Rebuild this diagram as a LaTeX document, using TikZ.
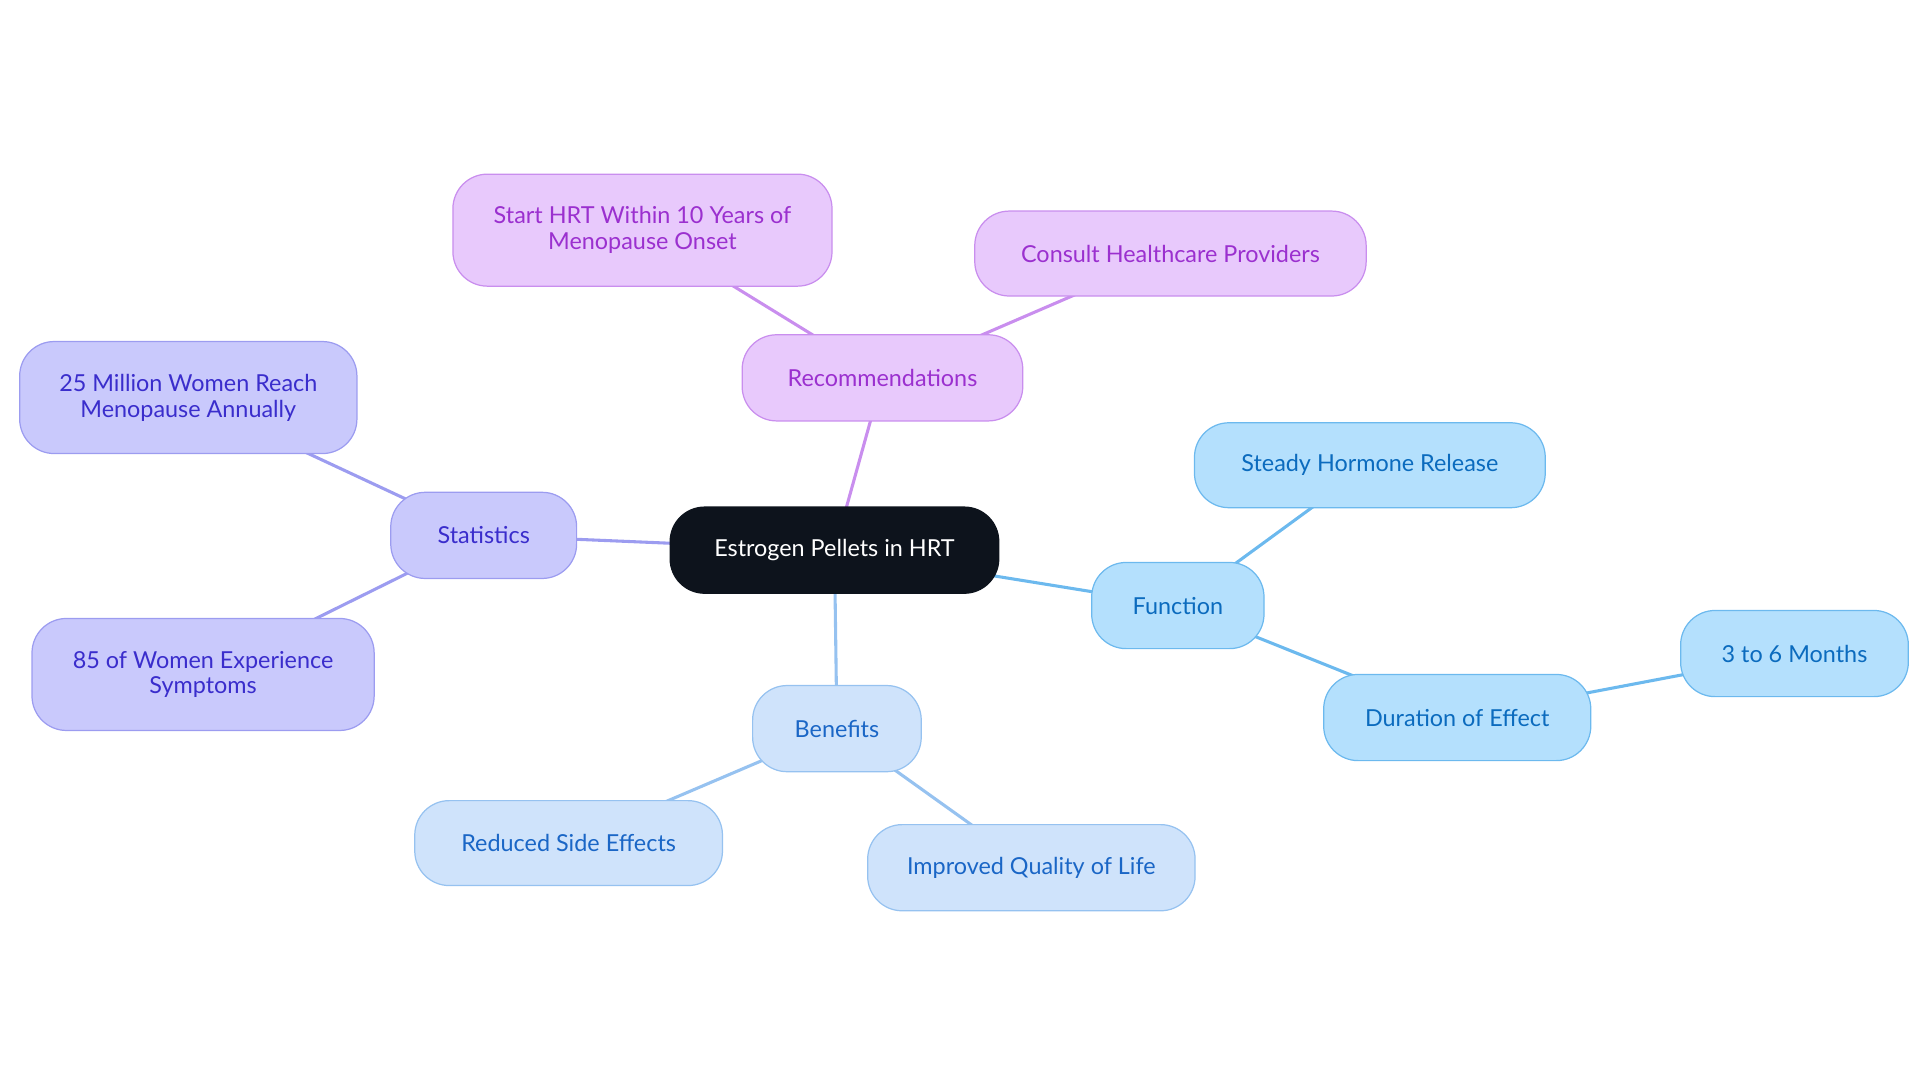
\documentclass[tikz,border=0pt]{standalone}
\usepackage{fontspec}
\setmainfont{Lato}
\usetikzlibrary{backgrounds}
\begin{document}
\begin{tikzpicture}[x=1pt,y=-1pt,
 box/.style={rounded corners=28pt,draw,line width=1pt,align=center,font=\fontsize{19}{21}\selectfont,inner sep=0pt},
 rec/.style={box,fill=recF,draw=recD,text=recT},
 sta/.style={box,fill=staF,draw=staD,text=staT},
 fun/.style={box,fill=funF,draw=funD,text=funT},
 ben/.style={box,fill=benF,draw=benD,text=benT},
 ln/.style={line width=2.5pt}]
\definecolor{cenF}{HTML}{0D131C}
\definecolor{recF}{HTML}{E8C9FC}\definecolor{recD}{HTML}{C98EEE}\definecolor{recT}{HTML}{9B30CF}
\definecolor{staF}{HTML}{C9C9FC}\definecolor{staD}{HTML}{9C9CF0}\definecolor{staT}{HTML}{3A2DCC}
\definecolor{funF}{HTML}{B4E0FD}\definecolor{funD}{HTML}{6CB9EE}\definecolor{funT}{HTML}{0B6BBE}
\definecolor{benF}{HTML}{CFE3FB}\definecolor{benD}{HTML}{96C2F0}\definecolor{benT}{HTML}{1A66C6}
\useasboundingbox (0,0) rectangle (1560,880);
\node[box,fill=cenF,draw=cenF,text=white,minimum width=267pt,minimum height=70pt] (c) at (678,447) {Estrogen Pellets in HRT};
\node[rec,minimum width=228pt,minimum height=70pt] (r) at (717,307) {Recommendations};
\node[rec,minimum width=308pt,minimum height=91pt] (r1) at (522,187) {Start HRT Within 10 Years of\\Menopause Onset};
\node[rec,minimum width=318pt,minimum height=69pt] (r2) at (951,206) {Consult Healthcare Providers};
\node[sta,minimum width=151pt,minimum height=70pt] (s) at (393,435) {Statistics};
\node[sta,minimum width=274pt,minimum height=91pt] (s1) at (153,323) {25 Million Women Reach\\Menopause Annually};
\node[sta,minimum width=278pt,minimum height=91pt] (s2) at (165,548) {85 of Women Experience\\Symptoms};
\node[fun,minimum width=140pt,minimum height=70pt] (f) at (957,492) {Function};
\node[fun,minimum width=285pt,minimum height=69pt] (f1) at (1113,378) {Steady Hormone Release};
\node[fun,minimum width=217pt,minimum height=70pt] (f2) at (1184,583) {Duration of Effect};
\node[fun,minimum width=185pt,minimum height=70pt] (f3) at (1458,531) {3 to 6 Months};
\node[ben,minimum width=137pt,minimum height=70pt] (b) at (680,592) {Benefits};
\node[ben,minimum width=250pt,minimum height=69pt] (b1) at (462,685) {Reduced Side Effects};
\node[ben,minimum width=266pt,minimum height=70pt] (b2) at (838,705) {Improved Quality of Life};
\begin{scope}[on background layer]
\draw[ln,recD] (c.center) -- (r.center);
\draw[ln,recD] (r.center) -- (r1.center);
\draw[ln,recD] (r.center) -- (r2.center);
\draw[ln,staD] (c.center) -- (s.center);
\draw[ln,staD] (s.center) -- (s1.center);
\draw[ln,staD] (s.center) -- (s2.center);
\draw[ln,funD] (c.center) -- (f.center);
\draw[ln,funD] (f.center) -- (f1.center);
\draw[ln,funD] (f.center) -- (f2.center);
\draw[ln,funD] (f2.center) -- (f3.center);
\draw[ln,benD] (c.center) -- (b.center);
\draw[ln,benD] (b.center) -- (b1.center);
\draw[ln,benD] (b.center) -- (b2.center);
\end{scope}
\end{tikzpicture}
\end{document}
